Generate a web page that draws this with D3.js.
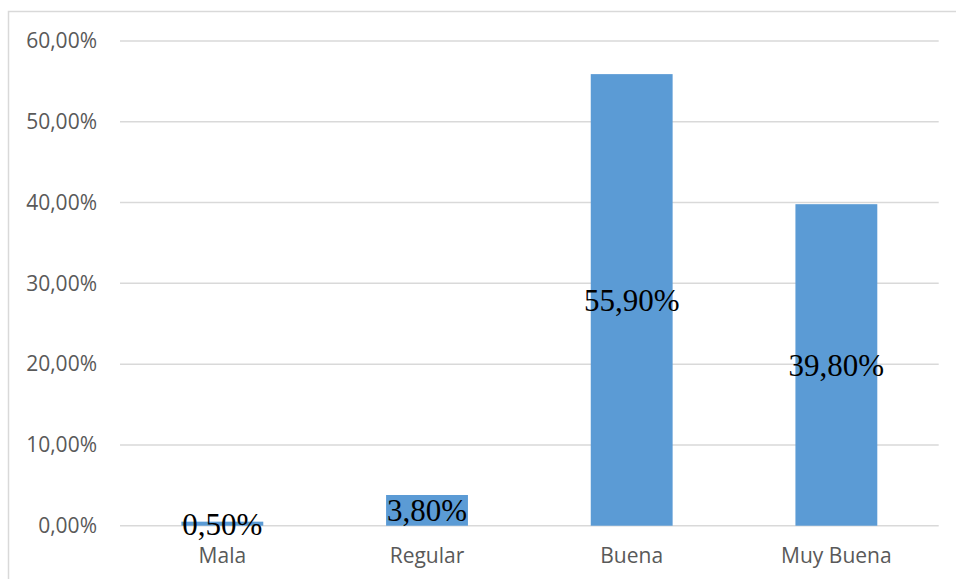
<!DOCTYPE html>
<html>
<head>
<meta charset="utf-8">
<script src="https://cdn.jsdelivr.net/npm/d3@7"></script>
<style>
  html, body { margin: 0; padding: 0; background: #fff; }
  svg { display: block; }
</style>
</head>
<body>
<svg id="chart" width="956" height="579"></svg>
<script>
// Calificación: share of responses per category
const categories = ["Mala", "Regular", "Buena", "Muy Buena"];
const values = [0.5, 3.8, 55.9, 39.8];
const yTicks = [0, 10, 20, 30, 40, 50, 60];

const fmtPct = v => v.toFixed(2).replace(".", ",") + "%";

const svg = d3.select("#chart");
const plot = { left: 120, right: 938.7, top: 41, bottom: 525.7 };

// Chart frame (extends past the right and bottom edges)
svg.append("rect")
  .attr("x", 8.5).attr("y", 11.5)
  .attr("width", 1200).attr("height", 1200)
  .attr("fill", "none").attr("stroke", "#d9d9d9").attr("stroke-width", 1.5);

const x = d3.scaleBand()
  .domain(categories)
  .range([plot.left, plot.right])
  .paddingInner(0.6)
  .paddingOuter(0.3);

const y = d3.scaleLinear()
  .domain([0, 60])
  .range([plot.bottom, plot.top]);

// Horizontal gridlines
svg.append("g")
  .selectAll("line")
  .data(yTicks)
  .join("line")
  .attr("x1", plot.left).attr("x2", plot.right)
  .attr("y1", d => y(d)).attr("y2", d => y(d))
  .attr("stroke", "#d9d9d9").attr("stroke-width", 1.5);

// Y axis labels
const yAxis = d3.axisLeft(y).tickValues(yTicks).tickFormat(fmtPct).tickSize(0).tickPadding(0);
const gy = svg.append("g").attr("transform", "translate(97,0)").call(yAxis);
gy.select(".domain").remove();
gy.selectAll("text")
  .attr("fill", "#595959")
  .style("font-family", "'Open Sans', sans-serif")
  .style("font-size", "21px");

// Bars
svg.append("g")
  .selectAll("rect")
  .data(values)
  .join("rect")
  .attr("x", (d, i) => x(categories[i]))
  .attr("width", x.bandwidth())
  .attr("y", d => y(d))
  .attr("height", d => y(0) - y(d))
  .attr("fill", "#5b9bd5");

// Category labels
const xAxis = d3.axisBottom(x).tickSize(0).tickPadding(0);
const gx = svg.append("g").attr("transform", "translate(0,548)").call(xAxis);
gx.select(".domain").remove();
gx.selectAll("text")
  .attr("fill", "#595959")
  .attr("dy", "0.71em")
  .style("font-family", "'Open Sans', sans-serif")
  .style("font-size", "21px");

// Value labels, centred in each bar
svg.append("g")
  .selectAll("text")
  .data(values)
  .join("text")
  .attr("x", (d, i) => x(categories[i]) + x.bandwidth() / 2)
  .attr("y", d => (y(d) + y(0)) / 2)
  .attr("dy", "0.35em")
  .attr("text-anchor", "middle")
  .attr("fill", "#000")
  .style("font-family", "'Liberation Serif', 'Times New Roman', serif")
  .style("font-size", "31px")
  .text(d => fmtPct(d));
</script>
</body>
</html>
